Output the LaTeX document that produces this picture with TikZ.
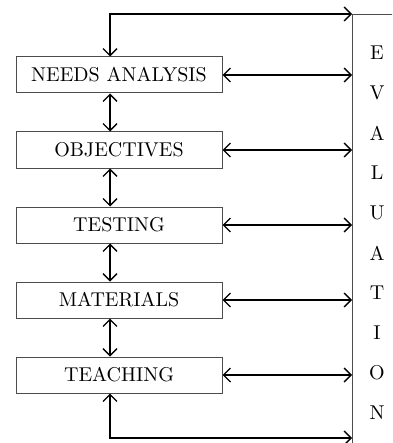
\documentclass[tikz,border=0pt]{standalone}
\usetikzlibrary{arrows.meta}
\begin{document}
\begin{tikzpicture}[x=0.5pt,y=-0.5pt,
  stage/.style={draw=black!70, line width=0.5pt, minimum width=103pt, minimum height=18pt, inner sep=0pt},
  link/.style={{Straight Barb[length=3.5pt,width=7pt]}-{Straight Barb[length=3.5pt,width=7pt]}, line width=0.7pt}]
\useasboundingbox (0,0) rectangle (392,443);
\clip (0,0) rectangle (392,443);
% stages
\node[stage] (needs) at (119,75) {NEEDS ANALYSIS};
\node[stage] (obj) at (119,150) {OBJECTIVES};
\node[stage] (test) at (119,225) {TESTING};
\node[stage] (mat) at (119,300) {MATERIALS};
\node[stage] (teach) at (119,375) {TEACHING};
% evaluation column
\node[draw=black!70, line width=0.5pt, anchor=north west, minimum width=60pt, minimum height=240pt] (eval) at (352,14) {};
\foreach \ch [count=\i from 0] in {E,V,A,L,U,A,T,I,O,N}
  \node (ev\i) at (377,53+40*\i) {\ch};
\coordinate (evbot) at (352,438);
% arrows
\foreach \s in {needs,obj,test,mat,teach}
  \draw[link] (\s.east) -- (\s.east -| eval.west);
\draw[link] ([xshift=-4.5pt]needs.south) -- ([xshift=-4.5pt]obj.north);
\draw[link] ([xshift=-4.5pt]obj.south) -- ([xshift=-4.5pt]test.north);
\draw[link] ([xshift=-4.5pt]test.south) -- ([xshift=-4.5pt]mat.north);
\draw[link] ([xshift=-4.5pt]mat.south) -- ([xshift=-4.5pt]teach.north);
\draw[link] ([xshift=-4.5pt]needs.north) |- (eval.north west);
\draw[link] ([xshift=-4.5pt]teach.south) |- (evbot);
\end{tikzpicture}
\end{document}
